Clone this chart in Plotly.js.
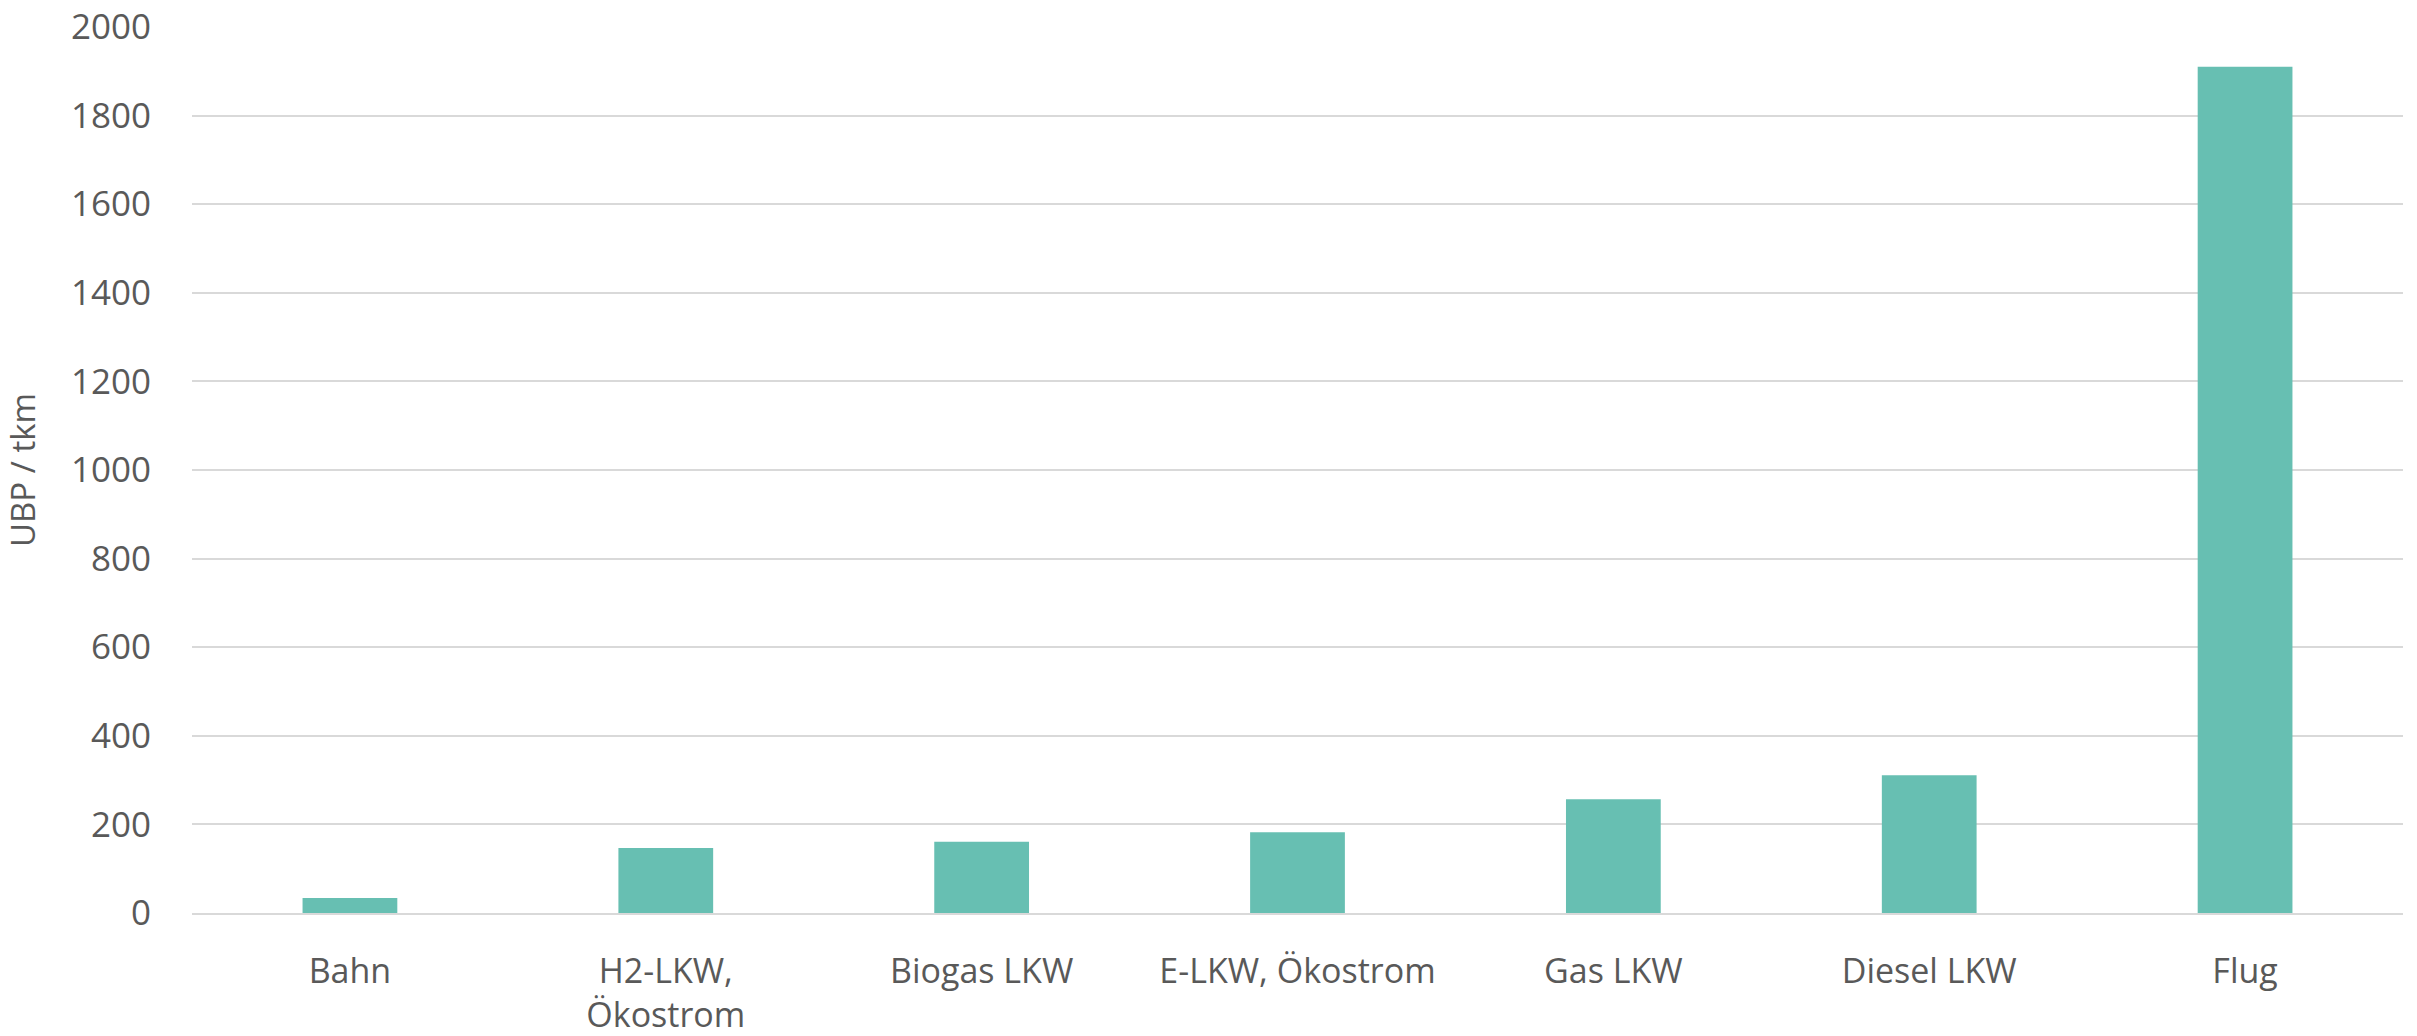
<!DOCTYPE html>
<html>
<head>
<meta charset="utf-8">
<script src="https://cdn.plot.ly/plotly-3.0.1.min.js"></script>
<style>html,body{margin:0;padding:0;background:#fff;}#chart{width:2417px;height:1036px;}</style>
</head>
<body>
<div id="chart"></div>
<script>
const categories = ["Bahn", "H2-LKW,<br>Ökostrom", "Biogas LKW", "E-LKW, Ökostrom", "Gas LKW", "Diesel LKW", "Flug"];
const values = [34, 147, 161, 182, 257, 311, 1910];
const yTicks = [0, 200, 400, 600, 800, 1000, 1200, 1400, 1600, 1800, 2000];
const yTitle = "UBP / tkm";

const font = "Open Sans, Liberation Sans, sans-serif";
const textColor = "#595959";

Plotly.newPlot("chart", [{
  type: "bar",
  x: categories,
  y: values,
  marker: {color: "#67BFB2"},
  hoverinfo: "x+y"
}], {
  width: 2417,
  height: 1036,
  margin: {l: 192, r: 14, t: 27, b: 123},
  paper_bgcolor: "#ffffff",
  plot_bgcolor: "#ffffff",
  bargap: 0.7,
  showlegend: false,
  font: {family: font, color: textColor, size: 35},
  xaxis: {
    type: "category",
    showgrid: false,
    showline: true,
    linecolor: "#D9D9D9",
    linewidth: 2,
    ticks: "",
    ticklabelstandoff: 27,
    tickfont: {family: font, size: 34, color: textColor},
    zeroline: false
  },
  yaxis: {
    range: [0, 2000],
    tickvals: yTicks,
    ticktext: yTicks.map(String),
    showgrid: true,
    gridcolor: "#D9D9D9",
    gridwidth: 2,
    zeroline: false,
    showline: false,
    ticks: "",
    ticklabelstandoff: 40,
    tickfont: {family: font, size: 35, color: textColor},
    title: {text: yTitle, font: {family: font, size: 33, color: textColor}, standoff: 30}
  }
}, {displayModeBar: false, staticPlot: true});
</script>
</body>
</html>
